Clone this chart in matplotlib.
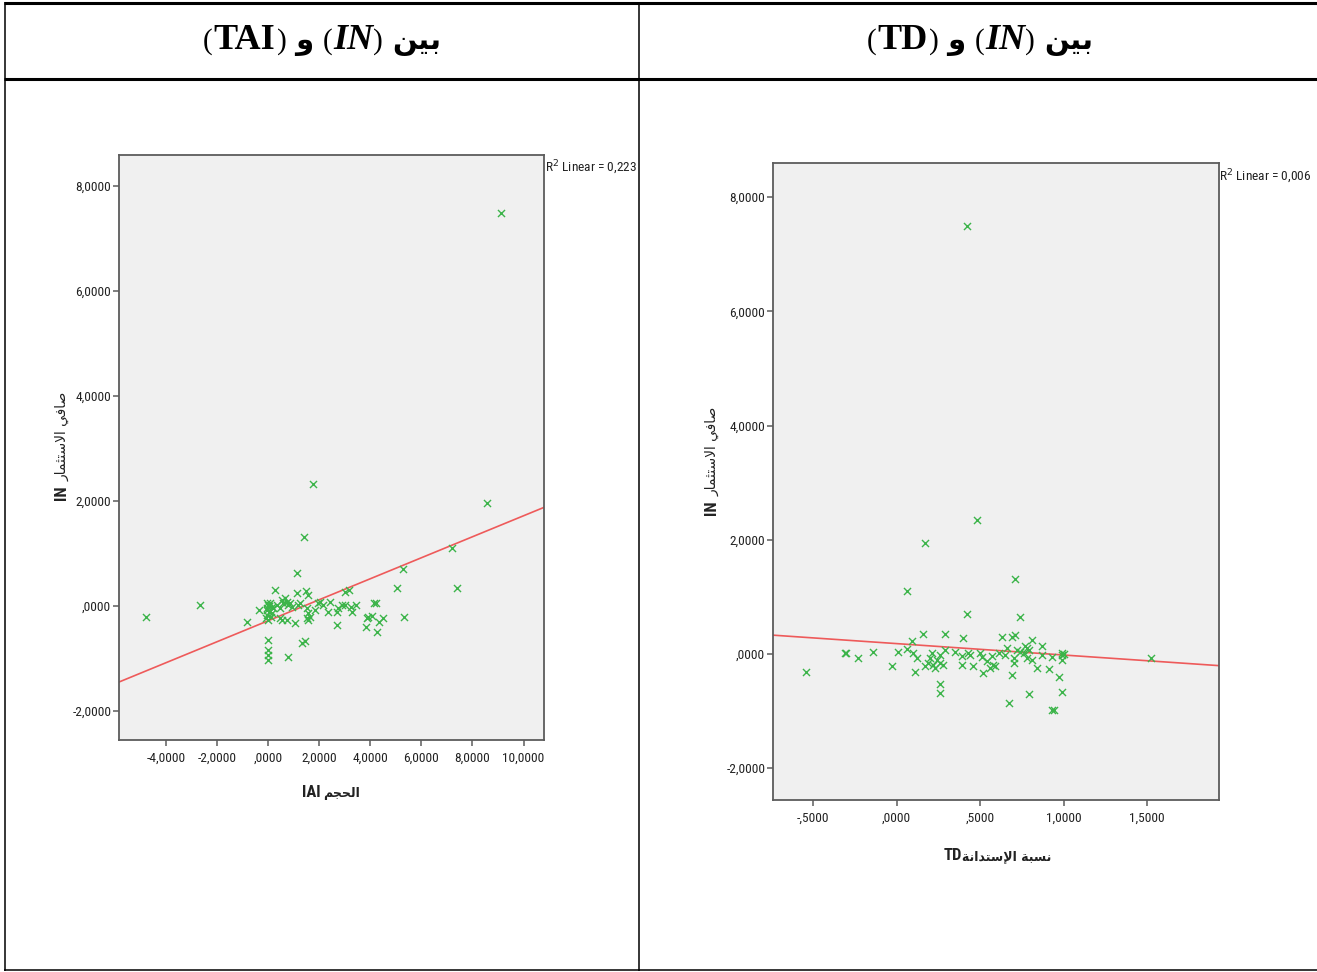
import matplotlib
matplotlib.use("Agg")
import matplotlib.pyplot as plt
from matplotlib import font_manager
from matplotlib.font_manager import FontProperties
from matplotlib.lines import Line2D
from matplotlib.ticker import FuncFormatter, FixedLocator
import numpy as np

# ---------------------------------------------------------------- data
tai_x = [-4.78, -2.68, -0.81, -0.34, -0.05, 0.01, 0.08, 0.14, -0.05, 0.04,
         -0.02, 0.14, 0.21, -0.08, 0.01, 0.10, 0.05, -0.03, 0.01, 0.00,
         0.00, 0.01, 0.27, 0.34, 0.47, 0.54, 0.60, 0.67, 0.73, 0.80,
         0.86, 0.93, 0.47, 0.54, 0.76, 0.80, 1.06, 1.12, 1.12, 1.19,
         1.25, 1.32, 1.45, 1.41, 1.49, 1.58, 1.51, 1.58, 1.51, 1.58,
         1.64, 1.76, 1.84, 1.97, 2.04, 2.17, 2.36, 2.43, 2.69, 2.69,
         2.75, 2.89, 3.01, 3.01, 3.18, 3.24, 3.28, 3.43, 3.86, 3.84,
         3.93, 4.06, 4.15, 4.23, 4.26, 4.36, 4.49, 5.04, 5.30, 5.34,
         7.19, 7.39, 8.57, 9.12]
tai_in = [-0.21, 0.03, -0.30, -0.08, 0.05, 0.02, 0.05, -0.01, -0.08, -0.11,
          -0.17, -0.14, -0.04, -0.23, -0.27, -0.20, 0.00, -0.04, -0.65, -0.84,
          -0.93, -1.02, 0.30, 0.02, -0.04, 0.11, 0.05, 0.15, 0.08, 0.02,
          0.05, -0.01, -0.23, -0.27, -0.27, -0.97, -0.33, 0.63, 0.24, 0.02,
          0.05, -0.71, -0.66, 1.31, 0.29, 0.21, -0.04, -0.14, -0.23, -0.27,
          -0.20, 2.32, -0.08, 0.05, 0.08, 0.02, -0.11, 0.08, -0.11, -0.36,
          -0.04, 0.02, 0.02, 0.27, 0.30, -0.01, -0.11, 0.02, -0.23, -0.39,
          -0.20, -0.19, 0.05, 0.05, -0.49, -0.30, -0.23, 0.35, 0.70, -0.20,
          1.10, 0.35, 1.96, 7.49]

td_x = [-0.54, -0.31, -0.30, -0.23, -0.14, -0.03, 0.01, 0.06, 0.06, 0.09,
        0.10, 0.12, 0.11, 0.16, 0.17, 0.17, 0.19, 0.20, 0.21, 0.22,
        0.23, 0.24, 0.26, 0.26, 0.28, 0.26, 0.26, 0.29, 0.29, 0.35,
        0.39, 0.39, 0.40, 0.42, 0.42, 0.43, 0.44, 0.46, 0.48, 0.50,
        0.51, 0.52, 0.54, 0.56, 0.58, 0.59, 0.57, 0.61, 0.63, 0.65,
        0.66, 0.67, 0.69, 0.69, 0.70, 0.70, 0.71, 0.71, 0.72, 0.74,
        0.74, 0.76, 0.77, 0.78, 0.78, 0.79, 0.79, 0.81, 0.81, 0.84,
        0.87, 0.87, 0.91, 0.93, 0.93, 0.94, 0.97, 0.99, 0.99, 0.99,
        0.99, 1.00, 1.52]
td_in = [-0.32, 0.01, 0.02, -0.08, 0.03, -0.22, 0.03, 1.10, 0.09, 0.22,
         0.01, -0.08, -0.32, 0.35, 1.95, -0.22, -0.16, -0.08, 0.01, -0.19,
         -0.25, -0.11, -0.02, -0.16, -0.19, -0.53, -0.68, 0.35, 0.06, 0.04,
         -0.03, -0.20, 0.27, 0.69, 7.50, 0.01, -0.02, -0.22, 2.35, 0.01,
         -0.05, -0.34, -0.13, -0.25, -0.19, -0.22, -0.03, 0.01, 0.30, -0.02,
         0.10, -0.86, -0.37, 0.30, -0.08, -0.16, 0.33, 1.31, 0.07, 0.04,
         0.64, 0.01, 0.14, 0.10, -0.08, -0.70, 0.07, -0.11, 0.25, -0.24,
         -0.02, 0.13, -0.26, -0.05, -0.98, -0.99, -0.40, 0.02, -0.02, -0.11,
         -0.66, 0.00, -0.08]

# linear fit lines (slope, intercept) and their R squared
tai_fit = [0.200, -0.28]
td_fit = [-0.200, 0.18]
tai_r2 = "0,223"
td_r2 = "0,006"

tai_xticks = [-4, -2, 0, 2, 4, 6, 8, 10]
td_xticks = [-0.5, 0.0, 0.5, 1.0, 1.5]
in_yticks = [-2, 0, 2, 4, 6, 8]

# ---------------------------------------------------------------- arabic shaping
FORMS = {
    'ا': ('\uFE8D', '\uFE8E', None, None),
    'إ': ('\uFE87', '\uFE88', None, None),
    'ب': ('\uFE8F', '\uFE90', '\uFE91', '\uFE92'),
    'ة': ('\uFE93', '\uFE94', None, None),
    'ت': ('\uFE95', '\uFE96', '\uFE97', '\uFE98'),
    'ث': ('\uFE99', '\uFE9A', '\uFE9B', '\uFE9C'),
    'ج': ('\uFE9D', '\uFE9E', '\uFE9F', '\uFEA0'),
    'ح': ('\uFEA1', '\uFEA2', '\uFEA3', '\uFEA4'),
    'د': ('\uFEA9', '\uFEAA', None, None),
    'ر': ('\uFEAD', '\uFEAE', None, None),
    'س': ('\uFEB1', '\uFEB2', '\uFEB3', '\uFEB4'),
    'ص': ('\uFEB9', '\uFEBA', '\uFEBB', '\uFEBC'),
    'ف': ('\uFED1', '\uFED2', '\uFED3', '\uFED4'),
    'ل': ('\uFEDD', '\uFEDE', '\uFEDF', '\uFEE0'),
    'م': ('\uFEE1', '\uFEE2', '\uFEE3', '\uFEE4'),
    'ن': ('\uFEE5', '\uFEE6', '\uFEE7', '\uFEE8'),
    'و': ('\uFEED', '\uFEEE', None, None),
    'ي': ('\uFEF1', '\uFEF2', '\uFEF3', '\uFEF4'),
    'لا': ('\uFEFB', '\uFEFC', None, None),
    'لإ': ('\uFEF9', '\uFEFA', None, None),
}


def shape(text):
    """Join Arabic letters into presentation forms, in left-to-right visual order."""
    toks, i = [], 0
    while i < len(text):
        if text[i] == 'ل' and i + 1 < len(text) and text[i + 1] in 'اإ':
            toks.append(text[i:i + 2])
            i += 2
        else:
            toks.append(text[i])
            i += 1

    def joins_next(t):
        return t in FORMS and FORMS[t][2] is not None

    out = []
    for k, t in enumerate(toks):
        if t not in FORMS:
            out.append(t)
            continue
        prev = toks[k - 1] if k > 0 else None
        nxt = toks[k + 1] if k + 1 < len(toks) else None
        jp = prev is not None and joins_next(prev)
        jn = nxt is not None and nxt in FORMS and joins_next(t)
        iso, fin, ini, med = FORMS[t]
        if jp and jn:
            out.append(med)
        elif jp:
            out.append(fin)
        elif jn:
            out.append(ini)
        else:
            out.append(iso)
    return ''.join(reversed(out))


# ---------------------------------------------------------------- fonts
def find_condensed(bold):
    """Look for an installed narrow sans face; fall back to a regular one."""
    wanted = 'bold' if bold else 'normal'
    cands = []
    for f in font_manager.fontManager.ttflist:
        name = f.name.lower()
        fname = f.fname.lower()
        narrow = ('narrow' in name or 'condensed' in name or 'narrow' in fname
                  or 'condensed' in fname or f.stretch in ('condensed', 'semi-condensed'))
        if not narrow or f.style != 'normal':
            continue
        w = f.weight if isinstance(f.weight, int) else (700 if f.weight == 'bold' else 400)
        is_bold = w >= 600
        if is_bold != bold:
            continue
        if 'light' in fname or 'thin' in fname or 'black' in fname or 'medium' in fname \
                or 'semibold' in fname or 'extra' in fname:
            continue
        if 'liberation' in name:
            rank = 0
        elif 'roboto' in name:
            rank = 1
        elif 'dejavu' in name:
            rank = 2
        else:
            rank = 3
        cands.append((rank, f.fname))
    if cands:
        cands.sort()
        return FontProperties(fname=cands[0][1]), True
    return FontProperties(family='Liberation Sans', weight=wanted), False


NARROW_FP, HAVE_NARROW = find_condensed(False)
NARROW_B_FP, _ = find_condensed(True)
SERIF = ['Liberation Serif', 'DejaVu Sans']
ARABIC = ['DejaVu Sans']
TICK_SIZE = 9.6 if HAVE_NARROW else 8.5

W, H = 1317, 972
fig = plt.figure(figsize=(W / 100, H / 100), dpi=100)
fig.patch.set_facecolor('white')


def fx(px):
    return px / W


def fy(py):
    return 1 - py / H


def narrow(size, bold=False):
    fp = (NARROW_B_FP if bold else NARROW_FP).copy()
    fp.set_size(size)
    return fp


# ---------------------------------------------------------------- table grid
def hline(y, x0, x1, lw):
    fig.add_artist(Line2D([fx(x0), fx(x1)], [fy(y), fy(y)], color='black', lw=lw,
                          transform=fig.transFigure, solid_capstyle='butt'))


def vline(x, y0, y1, lw):
    fig.add_artist(Line2D([fx(x), fx(x)], [fy(y0), fy(y1)], color='black', lw=lw,
                          transform=fig.transFigure, solid_capstyle='butt'))


hline(3.5, 4, W, 2.2)
hline(79.5, 4, W, 2.2)
hline(970, 4, W, 1.1)
vline(5, 2, 971, 1.1)
vline(638.5, 2, 971, 1.1)


# ---------------------------------------------------------------- mixed-font text runs
def place_runs(cx, base, runs, rotation=0):
    """Draw pieces of text side by side, centred on cx (pixels) along the run direction."""
    r = fig.canvas.get_renderer()
    widths = []
    for s, kw, gap in runs:
        t = fig.text(0, 0, s, **kw)
        widths.append(t.get_window_extent(r).width + gap)
        t.remove()
    total = sum(widths)
    pos = -total / 2
    for (s, kw, gap), w in zip(runs, widths):
        if rotation == 0:
            fig.text(fx(cx + pos), fy(base), s, ha='left', va='baseline', **kw)
        else:
            fig.text(fx(base), fy(cx - pos), s, ha='left', va='baseline', rotation=90,
                     rotation_mode='anchor', **kw)
        pos += w


hdr_lat = dict(family=SERIF, weight='bold', size=26)
hdr_par = dict(family=SERIF, weight='normal', size=21)
hdr_it = dict(family=SERIF, weight='bold', style='italic', size=26)
hdr_ar = dict(family=ARABIC, weight='bold', size=21)

for cx, code in [(322, 'TAI'), (980, 'TD')]:
    place_runs(cx, 49, [
        ('(', hdr_par, 1), (code, hdr_lat, 1), (')', hdr_par, 9),
        (shape('و'), hdr_ar, 9),
        ('(', hdr_par, 1), ('IN', hdr_it, 0), (')', hdr_par, 9),
        (shape('بين'), hdr_ar, 0),
    ])

# ---------------------------------------------------------------- scatter panels
GREEN = '#3cb44a'
RED = '#ee5a5a'
FRAME = '#5c5c5c'


def fmt(v, _pos=None):
    s = f"{v:.4f}".replace('.', ',')
    if s.startswith('0,'):
        s = s[1:]
    elif s.startswith('-0,'):
        s = '-' + s[2:]
    return s


def panel(rect, xs, ys, fit, r2, xlim, ylim, xticks, r2_xy):
    ax = fig.add_axes(rect)
    ax.set_facecolor('#f0f0f0')
    ax.set_xlim(*xlim)
    ax.set_ylim(*ylim)
    ax.scatter(xs, ys, marker='x', s=26, color=GREEN, linewidths=1.0, zorder=3)
    gx = np.array(xlim)
    ax.plot(gx, fit[0] * gx + fit[1], color=RED, lw=1.2, zorder=2)
    ax.xaxis.set_major_locator(FixedLocator(xticks))
    ax.yaxis.set_major_locator(FixedLocator(in_yticks))
    ax.xaxis.set_major_formatter(FuncFormatter(fmt))
    ax.yaxis.set_major_formatter(FuncFormatter(fmt))
    for sp in ax.spines.values():
        sp.set_color(FRAME)
        sp.set_linewidth(1.3)
    ax.tick_params(direction='out', length=4, width=1.1, color=FRAME,
                   labelcolor='#222222')
    ax.tick_params(axis='y', pad=1.5)
    ax.tick_params(axis='x', pad=4.5)
    for lab in ax.get_xticklabels() + ax.get_yticklabels():
        lab.set_fontproperties(narrow(TICK_SIZE))
    fig.text(fx(r2_xy[0]), fy(r2_xy[1]), 'R$^2$ Linear = ' + r2,
             fontproperties=narrow(TICK_SIZE), color='#222222', ha='left', va='center')
    return ax


panel([fx(119), fy(740), fx(544) - fx(119), fy(155) - fy(740)],
      tai_x, tai_in, tai_fit, tai_r2, (-5.83, 10.8), (-2.55, 8.59), tai_xticks, (545, 168))
panel([fx(773), fy(800), fx(1219) - fx(773), fy(163) - fy(800)],
      td_x, td_in, td_fit, td_r2, (-0.74, 1.93), (-2.56, 8.6), td_xticks, (1219, 177))

# ---------------------------------------------------------------- axis titles
lab_lat = dict(fontproperties=narrow(12 if HAVE_NARROW else 10.5, bold=True), color='#222222')
lab_ar = dict(family=ARABIC, weight='bold', size=9, color='#222222')
ylab_lat = dict(fontproperties=narrow(12 if HAVE_NARROW else 10.5, bold=True), color='#222222')
ylab_ar = dict(family=ARABIC, weight='normal', size=10, color='#222222')

place_runs(331, 797, [('IAI', lab_lat, 3), (shape('الحجم'), lab_ar, 0)])
place_runs(997, 860, [('TD', lab_lat, 0), (shape('نسبة الإستدانة'), lab_ar, 0)])

place_runs(446, 66, [('IN', ylab_lat, 5), (shape('صافي الاستثمار'), ylab_ar, 0)], rotation=90)
place_runs(461, 716, [('IN', ylab_lat, 5), (shape('صافي الاستثمار'), ylab_ar, 0)], rotation=90)

fig.savefig('out.png', dpi=100, facecolor='white')
